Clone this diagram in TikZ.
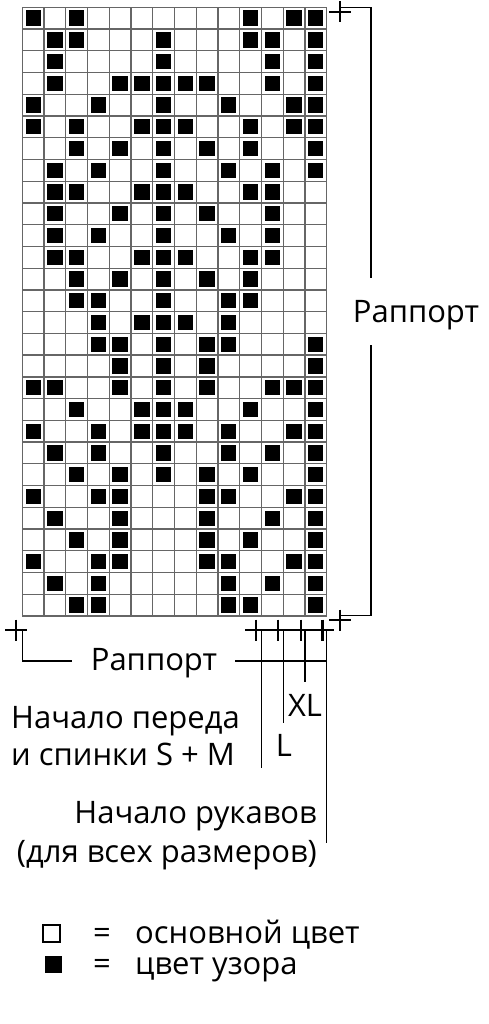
\documentclass[tikz,border=0pt]{standalone}
\usepackage{fontspec}
\setmainfont{Open Sans}
\newcommand{\gx}{22.3}
\newcommand{\gy}{7.3}
\newcommand{\cellsz}{21.74}
\begin{document}
\begin{tikzpicture}[x=1pt,y=-1pt,
  gridline/.style={black!60,line width=1.3pt},
  bracket/.style={line width=1.4pt},
  crossline/.style={line width=2.2pt},
  lbl/.style={font=\fontsize{31}{37}\selectfont,inner sep=0pt}]
\useasboundingbox (0,0) rectangle (489,1024);

% filled cells, row by row
\foreach \r/\cols in {1/{1,3,11,13,14},2/{2,3,7,11,12,14},3/{2,7,12,14},
  4/{2,5,6,7,8,9,12,14},5/{1,4,7,10,13,14},6/{1,3,6,7,8,11,13,14},
  7/{3,5,7,9,11,14},8/{2,4,7,10,12,14},9/{2,3,6,7,8,11,12},
  10/{2,5,7,9,12},11/{2,4,7,10,12},12/{2,3,6,7,8,11,12},
  13/{3,5,7,9,11},14/{3,4,7,10,11},15/{4,6,7,8,10},
  16/{4,5,7,9,10,14},17/{5,7,9,14},18/{1,2,5,7,9,12,13,14},
  19/{3,6,7,8,11,14},20/{1,4,6,7,8,10,13,14},21/{2,4,7,10,12,14},
  22/{3,5,7,9,11,14},23/{1,4,5,9,10,13,14},24/{2,5,9,12,14},
  25/{3,5,9,11,14},26/{1,4,5,9,10,13,14},27/{2,4,10,12,14},
  28/{3,4,10,11,14}}
{
  \foreach \c in \cols
    \fill (\gx+\c*\cellsz-\cellsz+3.2, \gy+\r*\cellsz-\cellsz+3.2) rectangle ++(15.3,15.3);
}

% grid
\foreach \k in {0,...,14}
  \draw[gridline] (\gx+\k*\cellsz, \gy) -- (\gx+\k*\cellsz, \gy+28*\cellsz);
\foreach \k in {0,...,28}
  \draw[gridline] (\gx, \gy+\k*\cellsz) -- (\gx+14*\cellsz, \gy+\k*\cellsz);

% right bracket
\node[lbl,anchor=base] (rapR) at (416,322) {Раппорт};
\coordinate (rT) at (340,7.3);
\coordinate (rB) at (340,615.5);
\coordinate (rgapT) at (371,278);
\coordinate (rgapB) at (371,345);
\draw[bracket] (rT) -| (rgapT);
\draw[bracket] (rB) -| (rgapB);

% crosses
\foreach \p in {(340,12),(340,620),(16,630),(256,630),(278,630),(301,630),(322.5,630)}
  \draw[crossline] \p +(-11,0) -- +(11,0) +(0,-10.5) -- +(0,10.5);

% bottom rapport
\node[lbl,anchor=base] (rapB) at (154,670) {Раппорт};
\coordinate (lT) at (22.3,630);
\coordinate (lE) at (72,661);
\draw[bracket] (lT) |- (lE);
\coordinate (hW) at (235,661);
\coordinate (hE) at (326.7,661);
\draw[bracket] (hW) -- (hE);
\draw[bracket] (247,630) -- (332,630);

% size lines
\node[lbl,anchor=base] (xl) at (305,716) {XL};
\node[lbl,anchor=base] (l) at (284,756) {L};
\node[lbl,anchor=base west] (front1) at (11,728) {Начало переда};
\node[lbl,anchor=base west] (front2) at (11,765) {и спинки S + M};
\node[lbl,anchor=base east] (sleeve1) at (317,823) {Начало рукавов};
\node[lbl,anchor=base east] (sleeve2) at (317,862) {(для всех размеров)};
\coordinate (sm) at (261.4,768);
\coordinate (sl) at (326.7,843);
\draw[bracket] (261.4,630) -- (sm);
\draw[bracket] (283.2,630) -- (283.2,723);
\draw[bracket] (304.9,630) -- (304.9,682);
\draw[bracket] (326.7,630) -- (sl);

% legend
\node[draw,line width=1.3pt,minimum size=17pt,inner sep=0pt] (sqW) at (51.5,933.5) {};
\node[fill,minimum size=17pt,inner sep=0pt] (sqB) at (53.5,964) {};
\node[lbl,anchor=base] (eqW) at (102,943) {=};
\node[lbl,anchor=base] (eqB) at (102,974) {=};
\node[lbl,anchor=base west] (txtW) at (135,943) {основной цвет};
\node[lbl,anchor=base west] (txtB) at (135,974) {цвет узора};
\end{tikzpicture}
\end{document}
